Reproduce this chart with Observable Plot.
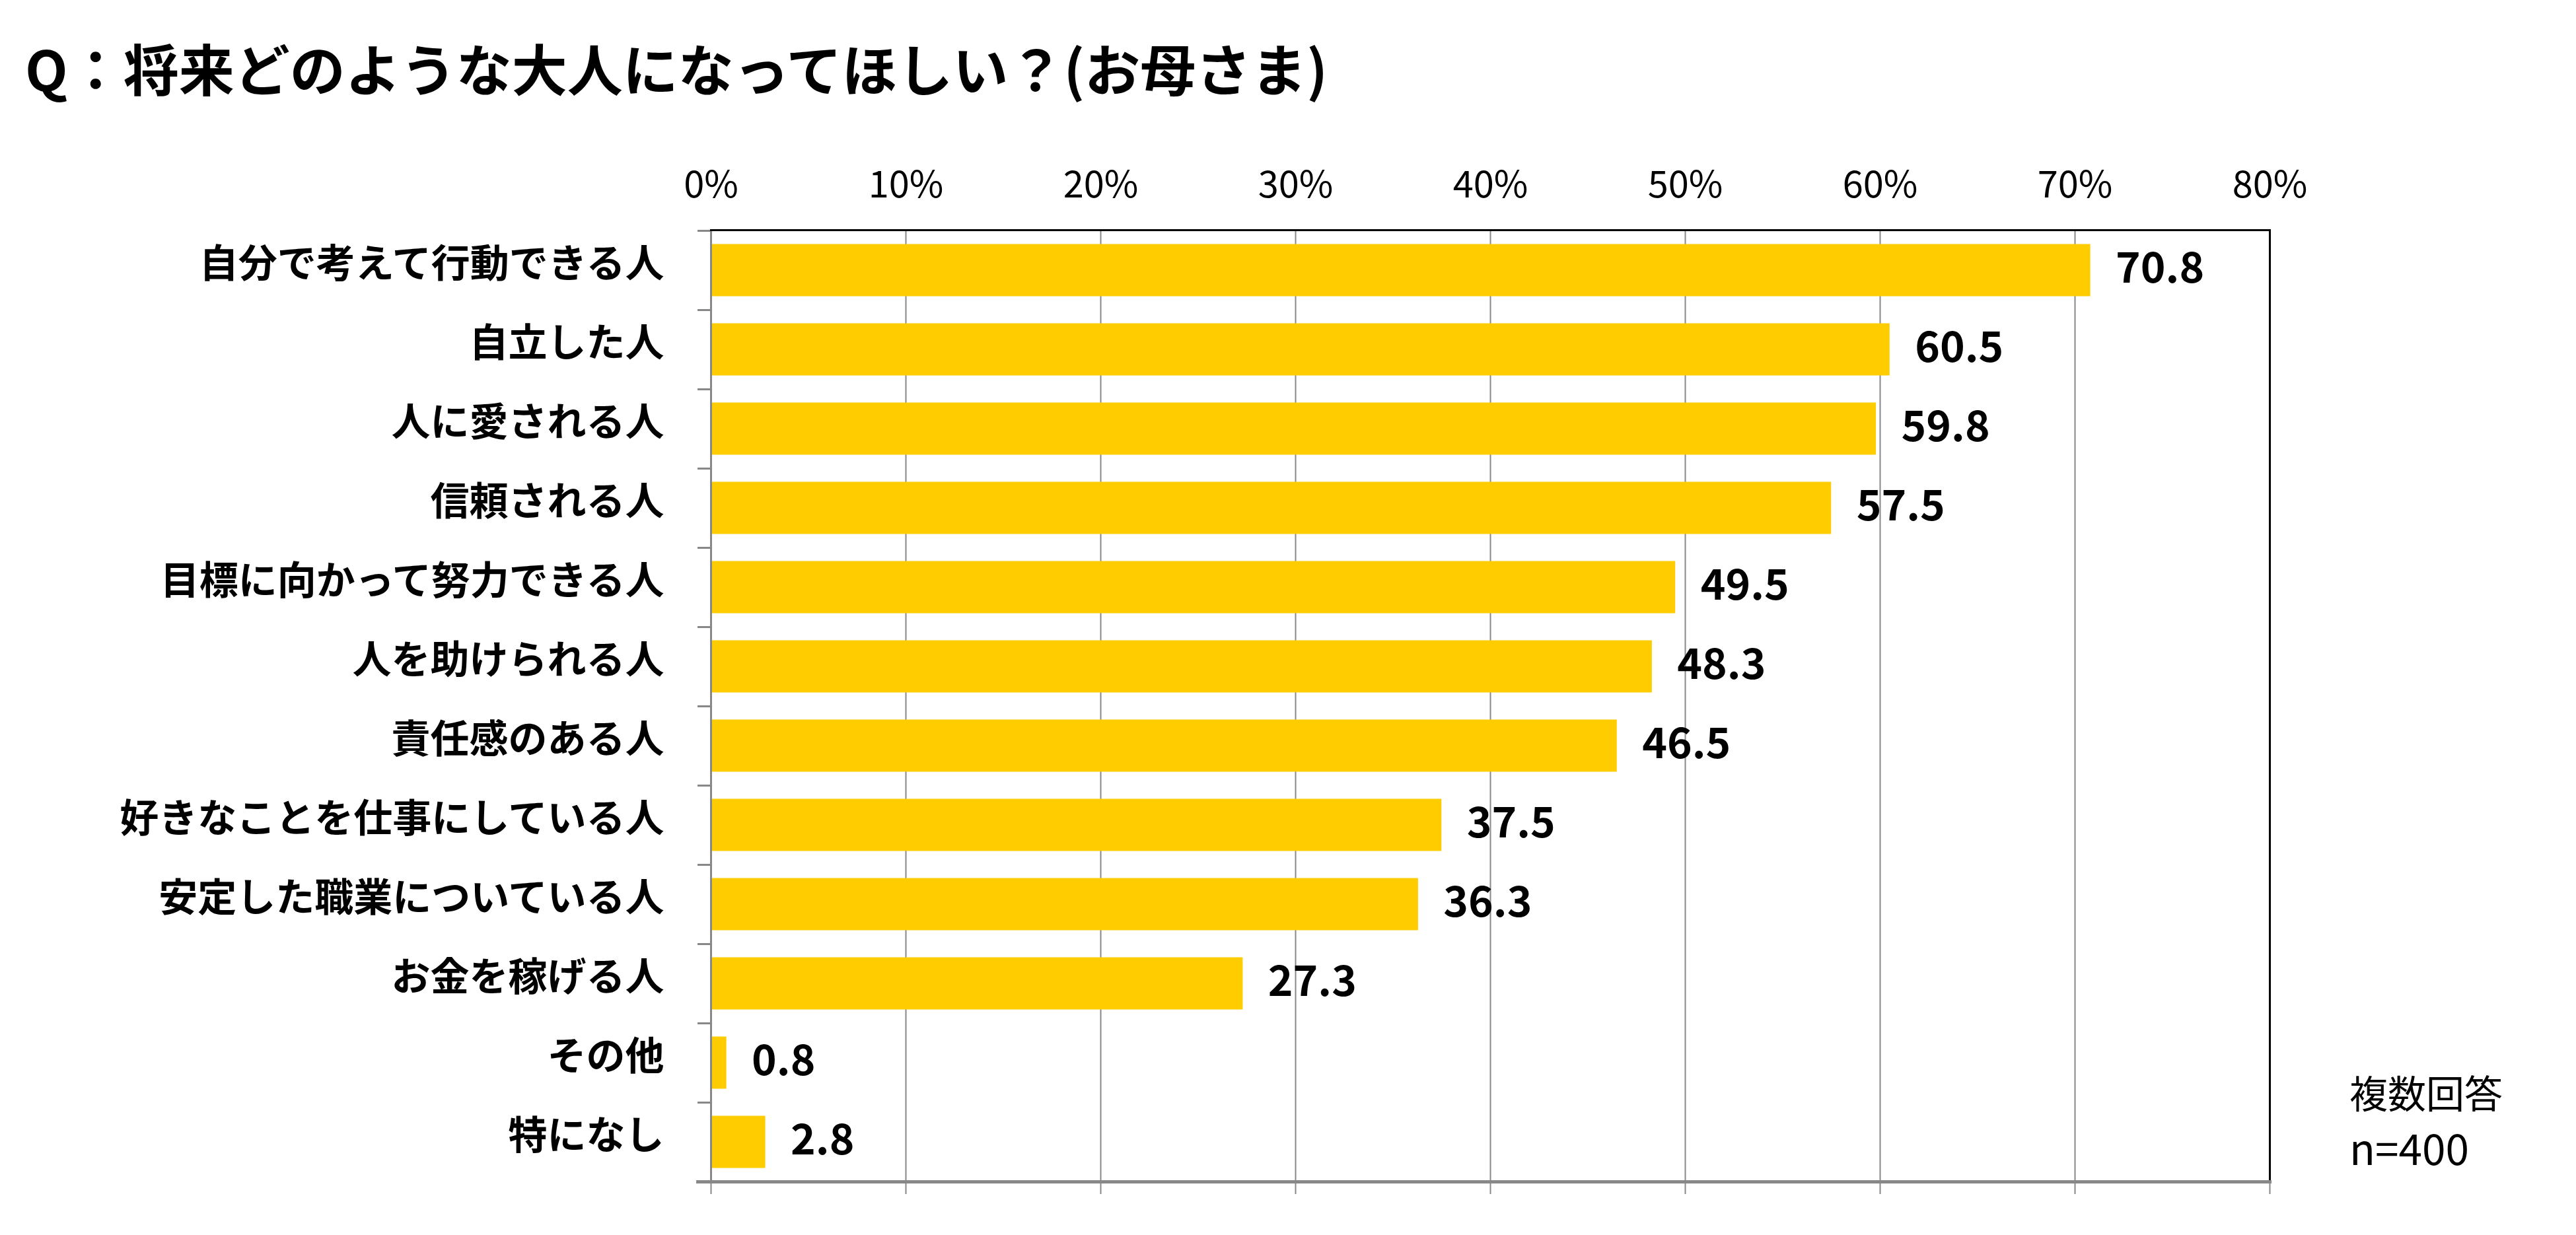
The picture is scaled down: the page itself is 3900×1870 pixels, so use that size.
<!DOCTYPE html>
<html>
<head>
<meta charset="utf-8">
<script src="https://cdn.jsdelivr.net/npm/d3@7"></script>
<script src="https://cdn.jsdelivr.net/npm/@observablehq/plot@0.6"></script>
<style>
  html, body { margin: 0; padding: 0; background: #fff; }
  body { width: 3900px; height: 1870px; position: relative; overflow: hidden;
         font-family: "Noto Sans CJK JP", "Noto Sans", sans-serif; color: #000; }
  #title { height: 200px; box-sizing: border-box; padding-top: 60px; padding-left: 38px;
           font-size: 84px; line-height: 84px; font-weight: 700; white-space: nowrap; }
  #note { position: absolute; left: 3557px; top: 1612px; font-size: 58px; line-height: 83px; }
  #note .n { font-size: 64px; }
  svg { display: block; }
</style>
</head>
<body>
<div id="title">Q：将来どのような大人になってほしい？(お母さま)</div>
<div id="chart"></div>
<div id="note">複数回答<br><span class="n">n=400</span></div>
<script>
const categories = [
  "自分で考えて行動できる人",
  "自立した人",
  "人に愛される人",
  "信頼される人",
  "目標に向かって努力できる人",
  "人を助けられる人",
  "責任感のある人",
  "好きなことを仕事にしている人",
  "安定した職業についている人",
  "お金を稼げる人",
  "その他",
  "特になし"
];
const values = [70.8, 60.5, 59.8, 57.5, 49.5, 48.3, 46.5, 37.5, 36.3, 27.3, 0.8, 2.8];
const xTicks = [0, 10, 20, 30, 40, 50, 60, 70, 80];
const xTickLabels = ["0%", "10%", "20%", "30%", "40%", "50%", "60%", "70%", "80%"];

const data = categories.map((c, i) => ({label: c, value: values[i]}));
const FONT = "Noto Sans CJK JP";
const GRAY = "#888888";

const chart = Plot.plot({
  width: 3900,
  height: 1670,
  marginTop: 148,
  marginBottom: 81,
  marginLeft: 1076,
  marginRight: 464,
  style: {fontFamily: FONT, background: "#fff", overflow: "visible"},
  x: {domain: [0, 80], label: null},
  y: {domain: categories, padding: 0, label: null},
  marks: [
    Plot.gridX(xTicks, {stroke: GRAY, strokeOpacity: 1, strokeWidth: 2}),
    Plot.barX(data, {x: "value", y: "label", fill: "#FFCC00", insetTop: 20.5, insetBottom: 20.5}),
    Plot.text(data, {x: "value", y: "label", text: d => d.value.toFixed(1), textAnchor: "start",
      dx: 38, dy: -2, fontSize: 64, fontWeight: 700, fill: "#000", fontFamily: FONT}),
    Plot.axisX({anchor: "top", ticks: xTicks, tickSize: 0, tickPadding: 50, fontSize: 56,
      tickFormat: (d) => xTickLabels[xTicks.indexOf(d)], fill: "#000", fontFamily: FONT}),
    Plot.axisX({anchor: "bottom", ticks: xTicks, tickSize: 19, fill: "none", stroke: GRAY, strokeWidth: 2}),
    Plot.axisY({anchor: "left", tickSize: 20, fill: "none", stroke: GRAY, strokeWidth: 3, dy: -60}),
    Plot.axisY({anchor: "left", tickSize: 0, tickPadding: 71, fontSize: 59, fontWeight: 700,
      fill: "#000", fontFamily: FONT, dy: -8}),
    Plot.frame({anchor: "left", stroke: GRAY, strokeWidth: 3}),
    Plot.frame({anchor: "top", stroke: "#000", strokeWidth: 3}),
    Plot.frame({anchor: "right", stroke: "#000", strokeWidth: 3}),
    Plot.frame({anchor: "bottom", stroke: GRAY, strokeWidth: 5, insetLeft: -20})
  ]
});
document.getElementById("chart").appendChild(chart);
</script>
</body>
</html>
